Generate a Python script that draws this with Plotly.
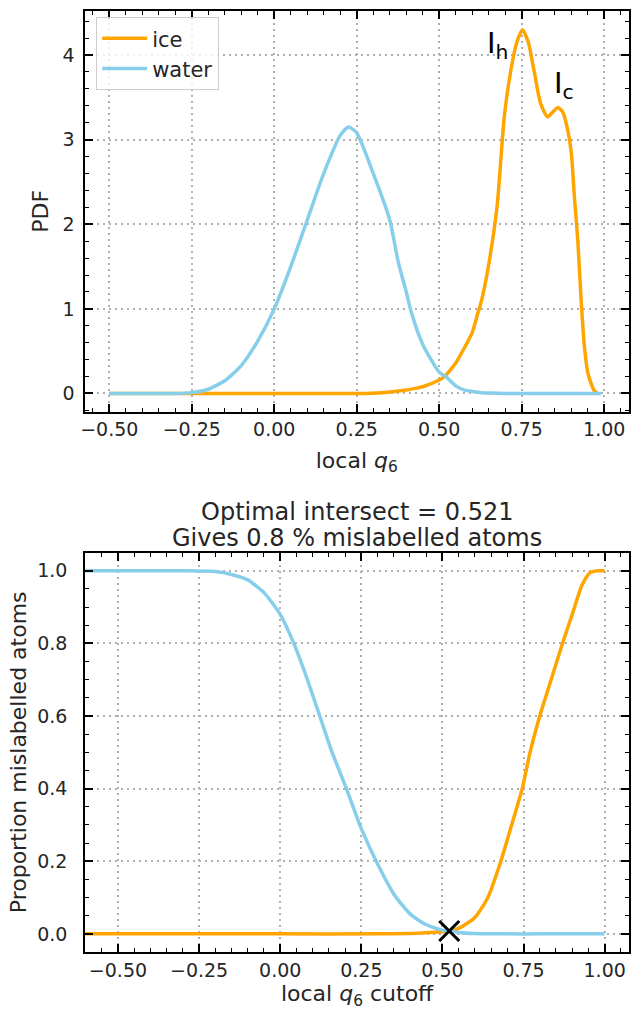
import plotly.graph_objects as go

# ---- data ----
pdf_x_water = [-0.5, -0.3, -0.25, -0.2, -0.15, -0.1, -0.05, 0.0, 0.05, 0.1, 0.15, 0.2, 0.225, 0.25,
               0.3, 0.35, 0.376, 0.4, 0.416, 0.45, 0.5, 0.52, 0.55, 0.577, 0.6, 0.627, 0.65, 0.7, 0.8, 0.9, 0.99]
pdf_y_water = [0.0, 0.0, 0.01, 0.05, 0.15, 0.33, 0.62, 1.0, 1.5, 2.05, 2.6, 3.05, 3.15, 3.08,
               2.6, 2.05, 1.55, 1.2, 0.95, 0.58, 0.25, 0.2, 0.09, 0.04, 0.025, 0.01, 0.005, 0.0, 0.0, 0.0, 0.0]

pdf_x_ice = [-0.5, -0.25, 0.0, 0.25, 0.326, 0.4, 0.426, 0.45, 0.5, 0.516, 0.55, 0.567, 0.6, 0.617, 0.625,
             0.647, 0.675, 0.697, 0.717, 0.735, 0.752, 0.77, 0.787, 0.807, 0.828, 0.845, 0.86, 0.875,
             0.89, 0.9, 0.91, 0.92, 0.93, 0.94, 0.95, 0.96, 0.97, 0.98]
pdf_y_ice = [0.0, 0.0, 0.0, 0.0, 0.01, 0.04, 0.06, 0.08, 0.16, 0.2, 0.36, 0.475, 0.72, 0.95, 1.05,
             1.46, 2.2, 3.27, 3.82, 4.15, 4.3, 4.15, 3.82, 3.43, 3.27, 3.33, 3.38, 3.32,
             3.1, 2.85, 2.3, 1.8, 1.1, 0.55, 0.25, 0.12, 0.03, 0.0]

cut_x_water = [-0.6, -0.3, -0.2, -0.15, -0.1, -0.05, 0.0, 0.042, 0.08, 0.122, 0.16, 0.204, 0.25,
               0.296, 0.35, 0.4, 0.45, 0.5, 0.521, 0.55, 0.6, 0.7, 0.8, 0.9, 1.0]
cut_y_water = [1.0, 1.0, 0.998, 0.99, 0.975, 0.94, 0.88, 0.8, 0.71, 0.6, 0.5, 0.4, 0.29,
               0.2, 0.11, 0.055, 0.025, 0.01, 0.008, 0.004, 0.001, 0.0, 0.0, 0.0, 0.0]

cut_x_ice = [-0.6, -0.3, 0.0, 0.3, 0.4, 0.45, 0.5, 0.521, 0.55, 0.6, 0.64, 0.68, 0.71, 0.746,
             0.77, 0.8, 0.835, 0.87, 0.9, 0.93, 0.955, 0.98, 1.0]
cut_y_ice = [0.0, 0.0, 0.0, 0.0, 0.001, 0.003, 0.006, 0.008, 0.015, 0.045, 0.1, 0.2, 0.29, 0.4,
             0.5, 0.6, 0.7, 0.8, 0.88, 0.96, 0.995, 1.0, 1.0]

opt_x = [0.521]
opt_y = [0.008]

title_lines = ["Optimal intersect = 0.521", "Gives 0.8 % mislabelled atoms"]

ICE = "#FFA500"
WATER = "#87CEEB"
FONT = "DejaVu Sans"
TXT = "#262626"

fig = go.Figure()
fig.add_trace(go.Scatter(x=pdf_x_ice, y=pdf_y_ice, mode="lines", name="ice",
                         line=dict(color=ICE, width=3.5, shape="spline", smoothing=0.6),
                         xaxis="x", yaxis="y"))
fig.add_trace(go.Scatter(x=pdf_x_water, y=pdf_y_water, mode="lines", name="water",
                         line=dict(color=WATER, width=3.5, shape="spline", smoothing=0.6),
                         xaxis="x", yaxis="y"))
fig.add_trace(go.Scatter(x=cut_x_ice, y=cut_y_ice, mode="lines", showlegend=False,
                         line=dict(color=ICE, width=3.5, shape="spline", smoothing=0.6),
                         xaxis="x2", yaxis="y2"))
fig.add_trace(go.Scatter(x=cut_x_water, y=cut_y_water, mode="lines", showlegend=False,
                         line=dict(color=WATER, width=3.5, shape="spline", smoothing=0.6),
                         xaxis="x2", yaxis="y2"))
fig.add_trace(go.Scatter(x=opt_x, y=opt_y, mode="markers", showlegend=False,
                         marker=dict(symbol="x-thin", size=20, line=dict(color="black", width=3)),
                         xaxis="x2", yaxis="y2"))

axis_common = dict(showline=True, linecolor="black", linewidth=2, mirror="allticks",
                   ticks="inside", ticklen=8, tickwidth=1.5, tickcolor="black",
                   showgrid=True, gridcolor="#b0b0b0", griddash="2px,4px", gridwidth=1.5,
                   zeroline=False, tickfont=dict(family=FONT, size=19, color=TXT))

def minor(d):
    return dict(ticks="inside", ticklen=4, tickwidth=1.2, tickcolor="black", dtick=d, tick0=0,
                showgrid=False)

def ttl(text, standoff):
    return dict(text=text, standoff=standoff, font=dict(family=FONT, size=22, color=TXT))

fig.update_layout(
    width=631, height=1010,
    margin=dict(l=0, r=0, t=0, b=0),
    paper_bgcolor="white", plot_bgcolor="white",
    font=dict(family=FONT, color=TXT),
    xaxis=dict(axis_common, domain=[0.1284, 0.9968], anchor="y", range=[-0.575, 1.075],
               dtick=0.25, tick0=0, tickformat=".2f", minor=minor(0.05),
               title=ttl("local <i>q</i><sub>6</sub>", 13)),
    yaxis=dict(axis_common, domain=[0.5924, 0.9891], anchor="x", range=[-0.215, 4.52],
               dtick=1, tick0=0, minor=minor(0.2), ticklabelstandoff=4,
               title=ttl("PDF", 8)),
    xaxis2=dict(axis_common, domain=[0.1295, 0.9968], anchor="y2", range=[-0.601, 1.075],
                dtick=0.25, tick0=0, tickformat=".2f", minor=minor(0.05),
                title=ttl("local <i>q</i><sub>6</sub> cutoff", 8)),
    yaxis2=dict(axis_common, domain=[0.0574, 0.4528], anchor="x2", range=[-0.05, 1.05],
                dtick=0.2, tick0=0, tickformat=".1f", minor=minor(0.05), ticklabelstandoff=12,
                title=ttl("Proportion mislabelled atoms", 4)),
    legend=dict(x=0.147, y=0.983, xanchor="left", yanchor="top",
                bgcolor="rgba(255,255,255,0.8)", bordercolor="#cccccc", borderwidth=1,
                font=dict(family=FONT, size=21, color=TXT), itemwidth=45,
                tracegroupgap=0),
    showlegend=True,
)

fig.add_annotation(x=0.678, y=4.12, xref="x", yref="y", text="I<sub>h</sub>", showarrow=False,
                   font=dict(family=FONT, size=29, color="black"))
fig.add_annotation(x=0.877, y=3.65, xref="x", yref="y", text="I<sub>c</sub>", showarrow=False,
                   font=dict(family=FONT, size=29, color="black"))
for line, ypx in zip(title_lines, [512, 538]):
    fig.add_annotation(x=0.563, y=1 - ypx / 1010, xref="paper", yref="paper",
                       text=line, showarrow=False, font=dict(family=FONT, size=24, color=TXT),
                       yanchor="middle")

fig.write_html("out.html")
